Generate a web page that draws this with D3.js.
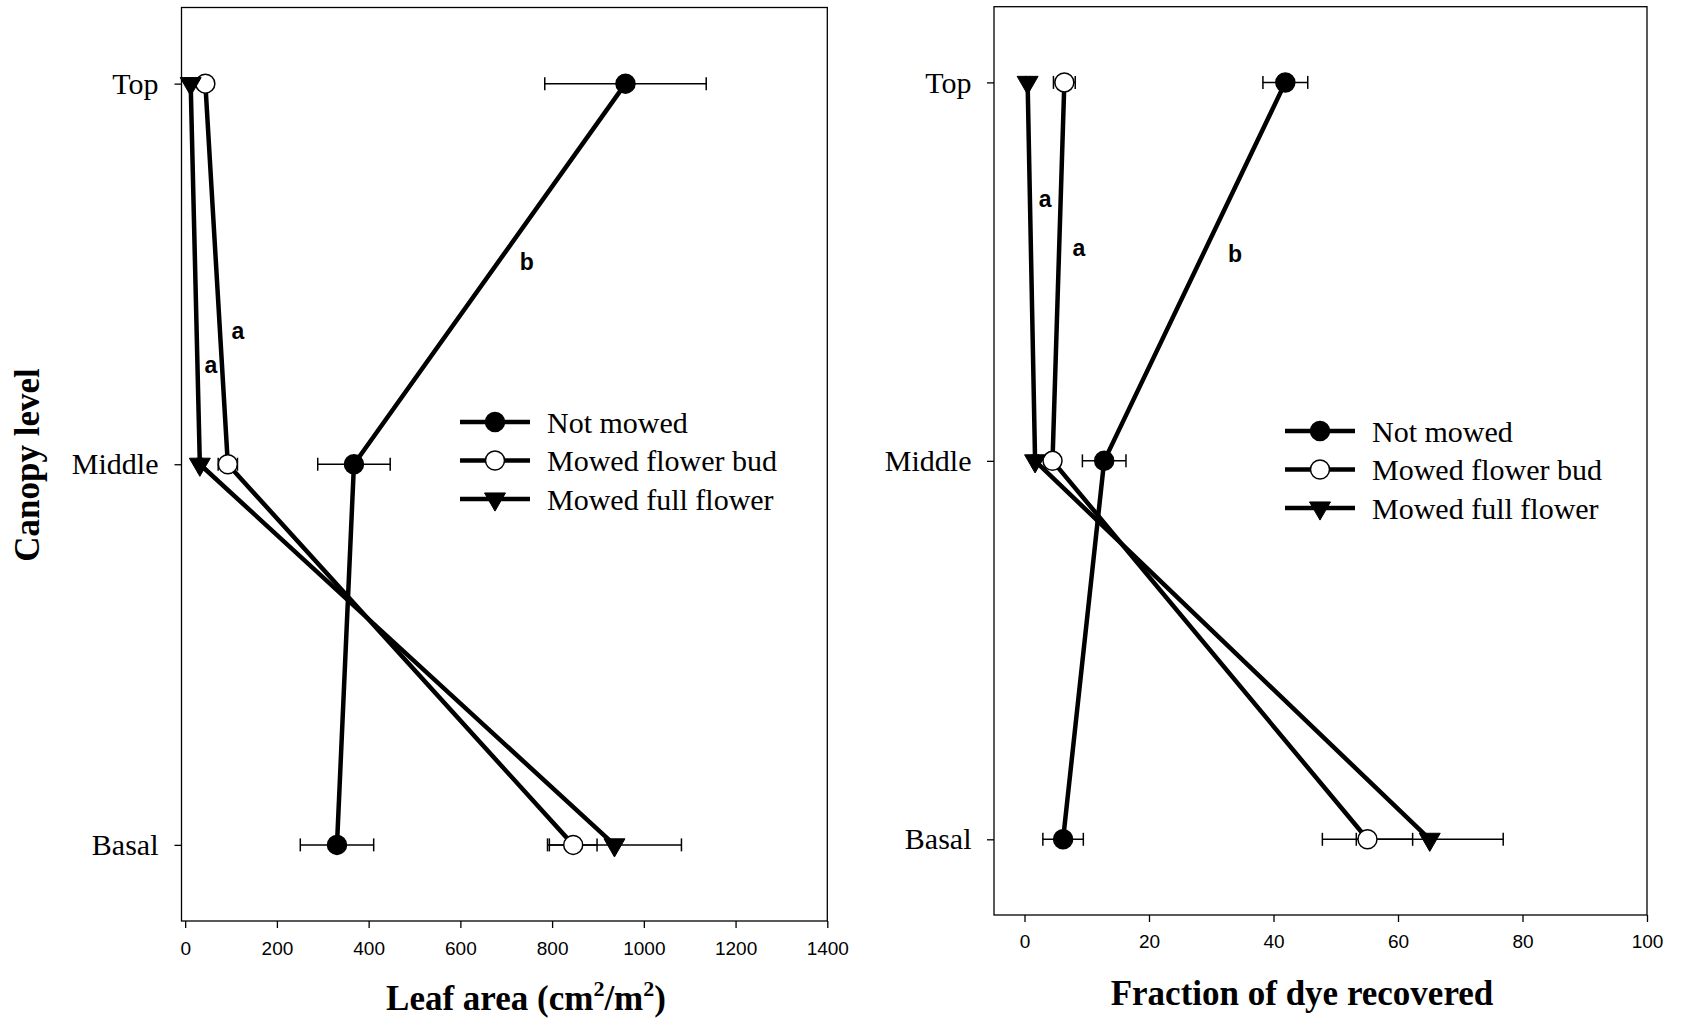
<!DOCTYPE html>
<html>
<head>
<meta charset="utf-8">
<script src="https://cdn.jsdelivr.net/npm/d3@7"></script>
<style>
  body { margin: 0; background: #fff; }
  svg { display: block; }
</style>
</head>
<body>
<svg id="chart"></svg>
<script>
// canopy levels, top to bottom
let levels = ["Top", "Middle", "Basal"];
let seriesNames = ["Not mowed", "Mowed flower bud", "Mowed full flower"];

// leaf area (cm2/m2)
let leafNotMowed = [960, 368, 331];
let leafNotMowedErr = [176, 79, 80];
let leafBud = [44, 93, 846];
let leafBudErr = [6, 21, 52];
let leafFull = [12, 32, 936];
let leafFullErr = [4, 6, 146];
let leafTicks = [0, 200, 400, 600, 800, 1000, 1200, 1400];

// fraction of dye recovered
let dyeNotMowed = [41.9, 12.8, 6.2];
let dyeNotMowedErr = [3.6, 3.5, 3.25];
let dyeBud = [6.4, 4.5, 55.1];
let dyeBudErr = [1.75, 0.8, 7.25];
let dyeFull = [0.5, 1.7, 65.1];
let dyeFullErr = [0.3, 0.5, 11.8];
let dyeTicks = [0, 20, 40, 60, 80, 100];

// significance letters: x value, y as canopy index (0 = Top)
let leafLetters = [["b", 745, 0.49], ["a", 115, 0.67], ["a", 56, 0.76]];
let dyeLetters = [["a", 3.3, 0.33], ["a", 8.75, 0.46], ["b", 33.8, 0.475]];

let svg = d3.select("#chart").attr("width", 1687).attr("height", 1021);

let serif = "'Liberation Serif', 'Times New Roman', serif";
let sans = "'Liberation Sans', Arial, sans-serif";

let symbols = ["circle", "circle", "triangle"];
let fills = ["#000", "#fff", "#000"];

function drawMarker(g, type, fill) {
    if (type == "circle") {
        g.append("circle").attr("r", 9.5).attr("fill", fill)
            .attr("stroke", "#000").attr("stroke-width", 1.5);
    } else {
        g.append("path")
            .attr("d", d3.symbol().type(d3.symbolTriangle).size(190)())
            .attr("transform", "rotate(180)")
            .attr("fill", fill).attr("stroke", "#000").attr("stroke-width", 1);
    }
}

function drawPanel(p) {
    let x = d3.scaleLinear().domain(p.xDomain).range([p.left, p.right]);
    let y = d3.scaleLinear().domain([-0.2, 2.2]).range([p.top, p.bottom]);
    let g = svg.append("g");

    g.append("rect")
        .attr("x", p.left).attr("y", p.top)
        .attr("width", p.right - p.left).attr("height", p.bottom - p.top)
        .attr("fill", "none").attr("stroke", "#000").attr("stroke-width", 1.3);

    let xa = g.append("g")
        .attr("transform", "translate(0," + p.bottom + ")")
        .call(d3.axisBottom(x).tickValues(p.ticks).tickFormat(d3.format("d"))
            .tickSize(7).tickSizeOuter(0).tickPadding(p.xPad));
    xa.select(".domain").remove();
    xa.selectAll("line").attr("stroke-width", 1.3);
    xa.selectAll("text").attr("font-family", sans).attr("font-size", 19).attr("fill", "#000");

    let ya = g.append("g")
        .attr("transform", "translate(" + p.left + ",0)")
        .call(d3.axisLeft(y).tickValues([0, 1, 2]).tickFormat(function (i) { return levels[i] })
            .tickSize(7).tickSizeOuter(0).tickPadding(p.yPad));
    ya.select(".domain").remove();
    ya.selectAll("line").attr("stroke-width", 1.3);
    ya.selectAll("text").attr("font-family", serif).attr("font-size", 30).attr("fill", "#000");

    let line = d3.line()
        .x(function (d) { return x(d) })
        .y(function (d, i) { return y(i) });

    // series lines
    p.series.forEach(function (s) {
        g.append("path")
            .datum(s.values)
            .attr("fill", "none")
            .attr("stroke", "#000")
            .attr("stroke-linejoin", "round")
            .attr("stroke-width", 4.5)
            .attr("d", line);
    });

    // error bars
    p.series.forEach(function (s) {
        s.values.forEach(function (v, i) {
            let e = s.errors[i];
            let yy = y(i);
            g.append("line").attr("x1", x(v - e)).attr("x2", x(v + e))
                .attr("y1", yy).attr("y2", yy).attr("stroke", "#000").attr("stroke-width", 1.5);
            [v - e, v + e].forEach(function (c) {
                g.append("line").attr("x1", x(c)).attr("x2", x(c))
                    .attr("y1", yy - 6.5).attr("y2", yy + 6.5)
                    .attr("stroke", "#000").attr("stroke-width", 1.5);
            });
        });
    });

    // markers
    p.series.forEach(function (s, k) {
        s.values.forEach(function (v, i) {
            let m = g.append("g").attr("transform", "translate(" + x(v) + "," + y(i) + ")");
            drawMarker(m, symbols[k], fills[k]);
        });
    });

    // letters
    p.letters.forEach(function (l) {
        g.append("text")
            .attr("x", x(l[1])).attr("y", y(l[2]))
            .attr("text-anchor", "middle")
            .attr("font-family", sans).attr("font-weight", "bold").attr("font-size", 23)
            .text(l[0]);
    });

    // legend
    seriesNames.forEach(function (name, k) {
        let ly = p.legendY[k];
        g.append("line")
            .attr("x1", p.legendX - 35).attr("x2", p.legendX + 35)
            .attr("y1", ly).attr("y2", ly)
            .attr("stroke", "#000").attr("stroke-width", 4.5);
        let m = g.append("g").attr("transform", "translate(" + p.legendX + "," + ly + ")");
        drawMarker(m, symbols[k], fills[k]);
        g.append("text")
            .attr("x", p.legendX + 52).attr("y", ly + 10.5)
            .attr("font-family", serif).attr("font-size", 30)
            .text(name);
    });

    // x title
    let t = g.append("text")
        .attr("x", p.titleX).attr("y", p.titleY)
        .attr("text-anchor", "middle")
        .attr("font-family", serif).attr("font-weight", "bold").attr("font-size", 35);
    p.title(t);
}

drawPanel({
    left: 181.5, right: 827.3, top: 7.5, bottom: 921,
    xDomain: [-8, 1400], ticks: leafTicks, xPad: 14, yPad: 16,
    series: [
        { values: leafNotMowed, errors: leafNotMowedErr },
        { values: leafBud, errors: leafBudErr },
        { values: leafFull, errors: leafFullErr }
    ],
    letters: leafLetters,
    legendX: 495, legendY: [422, 460.5, 499],
    titleX: 526, titleY: 1010,
    title: function (t) {
        t.append("tspan").text("Leaf area (cm");
        t.append("tspan").attr("font-size", 22).attr("dy", -14).text("2");
        t.append("tspan").attr("dy", 14).text("/m");
        t.append("tspan").attr("font-size", 22).attr("dy", -14).text("2");
        t.append("tspan").attr("dy", 14).text(")");
    }
});

drawPanel({
    left: 994, right: 1647, top: 6.7, bottom: 915,
    xDomain: [-4.9, 100], ticks: dyeTicks, xPad: 12.7, yPad: 15.5,
    series: [
        { values: dyeNotMowed, errors: dyeNotMowedErr },
        { values: dyeBud, errors: dyeBudErr },
        { values: dyeFull, errors: dyeFullErr }
    ],
    letters: dyeLetters,
    legendX: 1320, legendY: [431, 469.5, 508],
    titleX: 1302, titleY: 1005,
    title: function (t) { t.text("Fraction of dye recovered"); }
});

// y title
svg.append("text")
    .attr("transform", "translate(39,465) rotate(-90)")
    .attr("text-anchor", "middle")
    .attr("font-family", serif).attr("font-weight", "bold").attr("font-size", 35)
    .text("Canopy level");
</script>
</body>
</html>
